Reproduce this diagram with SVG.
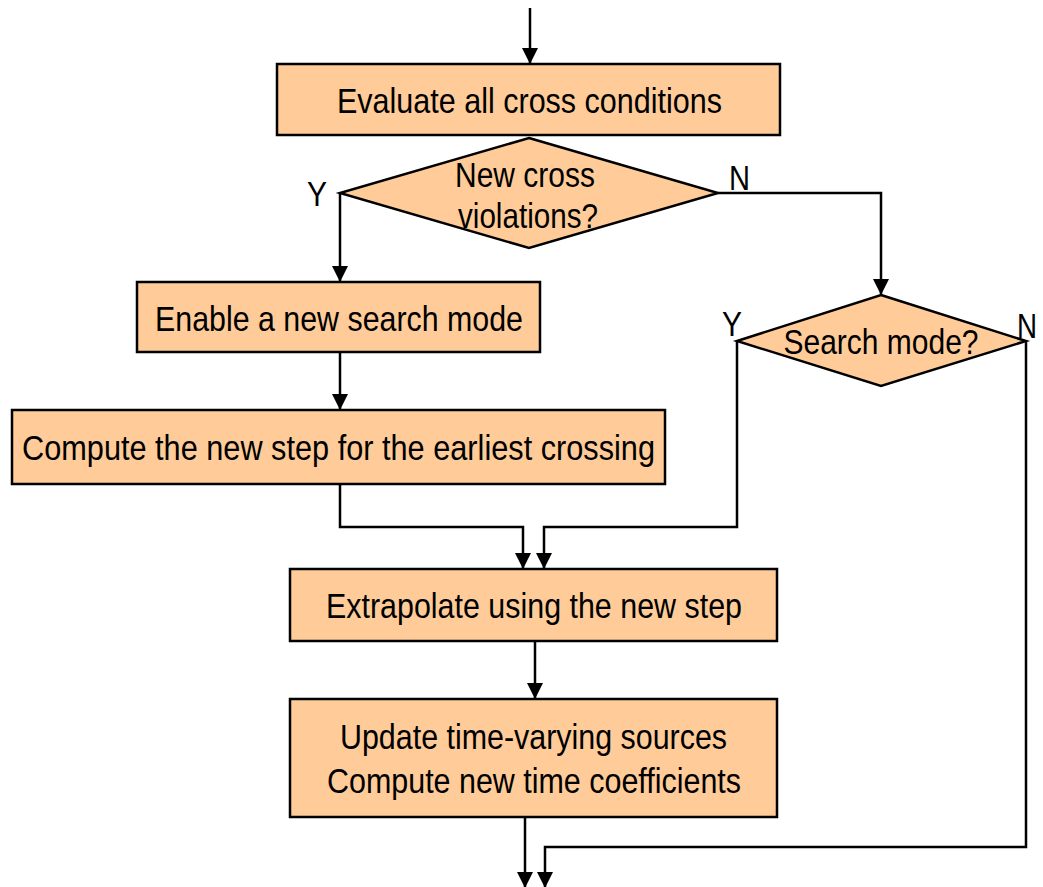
<svg xmlns="http://www.w3.org/2000/svg" width="1043" height="887" viewBox="0 0 1043 887">
<style>
.box{fill:#FFCC99;stroke:#000;stroke-width:2.5}
.t{font-family:"Liberation Sans",Arial,sans-serif;font-size:35px;fill:#000;text-anchor:middle}
.lbl{font-family:"Liberation Sans",Arial,sans-serif;font-size:35px;fill:#000}
.c{fill:none;stroke:#000;stroke-width:2.5}
</style>
<defs>
<marker id="ah" markerUnits="userSpaceOnUse" markerWidth="16" markerHeight="18" viewBox="0 0 16 18" refX="15" refY="9" orient="auto">
<path d="M0,1 L16,9 L0,17 Z" fill="#000"/>
</marker>
</defs>
<rect width="1043" height="887" fill="#fff"/>
<g id="connectors">
<path class="c" d="M530,8 V63" marker-end="url(#ah)"/>
<path class="c" d="M340,193 V281" marker-end="url(#ah)"/>
<path class="c" d="M718,193 H881 V294" marker-end="url(#ah)"/>
<path class="c" d="M340,352 V409" marker-end="url(#ah)"/>
<path class="c" d="M340,484 V527 H523 V568" marker-end="url(#ah)"/>
<path class="c" d="M737,341 V527 H544 V568" marker-end="url(#ah)"/>
<path class="c" d="M535,641 V698" marker-end="url(#ah)"/>
<path class="c" d="M525,817 V887" marker-end="url(#ah)"/>
<path class="c" d="M1026,341 V847 H545 V887" marker-end="url(#ah)"/>
</g>
<g id="n1"><rect class="box" x="277" y="64" width="503" height="71"/><text class="t" x="529.5" y="113" textLength="385" lengthAdjust="spacingAndGlyphs">Evaluate all cross conditions</text></g>
<g id="n2"><polygon class="box" points="529,138 718,193 529,248 340,193"/><text class="t" x="525" y="187" textLength="140" lengthAdjust="spacingAndGlyphs">New cross</text><text class="t" x="528" y="228" textLength="140" lengthAdjust="spacingAndGlyphs">violations?</text></g>
<g id="n3"><rect class="box" x="137" y="282" width="403" height="70"/><text class="t" x="339" y="331" textLength="368" lengthAdjust="spacingAndGlyphs">Enable a new search mode</text></g>
<g id="n4"><rect class="box" x="12" y="410" width="653" height="74"/><text class="t" x="338.5" y="460" textLength="633" lengthAdjust="spacingAndGlyphs">Compute the new step for the earliest crossing</text></g>
<g id="n5"><polygon class="box" points="881,295 1026,341 881,386 737,341"/><text class="t" x="881" y="354" textLength="195" lengthAdjust="spacingAndGlyphs">Search mode?</text></g>
<g id="n6"><rect class="box" x="290" y="569" width="487" height="72"/><text class="t" x="534" y="618" textLength="416" lengthAdjust="spacingAndGlyphs">Extrapolate using the new step</text></g>
<g id="n7"><rect class="box" x="290" y="699" width="487" height="118"/><text class="t" x="533.5" y="749" textLength="387" lengthAdjust="spacingAndGlyphs">Update time-varying sources</text><text class="t" x="534" y="793" textLength="414" lengthAdjust="spacingAndGlyphs">Compute new time coefficients</text></g>
<g id="labels">
<text class="lbl" x="307" y="206" textLength="20" lengthAdjust="spacingAndGlyphs">Y</text>
<text class="lbl" x="729" y="190" textLength="21" lengthAdjust="spacingAndGlyphs">N</text>
<text class="lbl" x="722" y="336" textLength="20" lengthAdjust="spacingAndGlyphs">Y</text>
<text class="lbl" x="1017" y="338" textLength="20" lengthAdjust="spacingAndGlyphs">N</text>
</g>
</svg>
